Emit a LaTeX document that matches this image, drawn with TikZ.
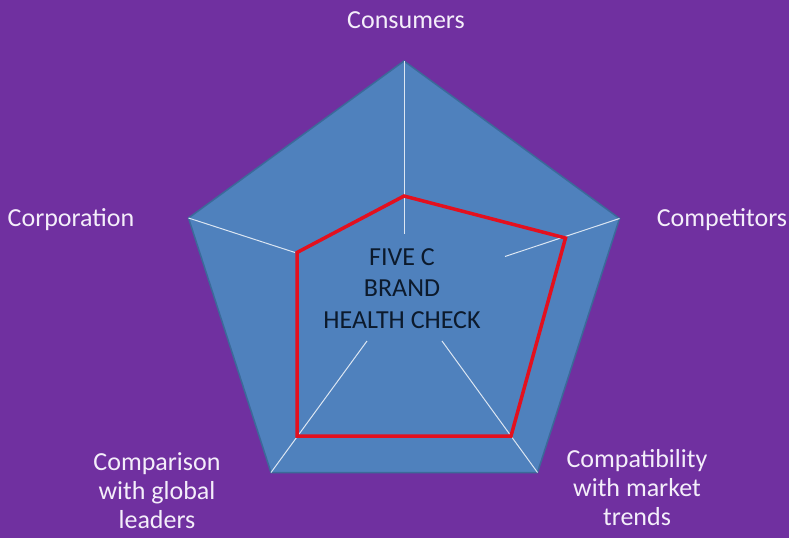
\documentclass[tikz,border=0pt]{standalone}
\usepackage{fontspec}
\setmainfont{Carlito}
\definecolor{bgpurple}{HTML}{7030A0}
\definecolor{pentfill}{HTML}{4F81BD}
\definecolor{pentedge}{HTML}{3B6A9A}
\definecolor{redline}{HTML}{E3101E}
\definecolor{spoke}{HTML}{DCE6F2}
\definecolor{labeltext}{HTML}{F4EEFA}
\definecolor{centertext}{HTML}{0C1A2C}
\tikzset{
  lbl/.style={text=labeltext, font=\fontsize{26}{29}\selectfont, align=center, inner sep=0pt, anchor=base},
  ctr/.style={text=centertext, font=\fontsize{26}{31.5}\selectfont, align=center, inner sep=0pt, anchor=base},
  spokeline/.style={draw=spoke, line width=1pt},
  radar/.style={draw=redline, line width=3.5pt, line join=miter},
  pent/.style={fill=pentfill, draw=pentedge, line width=1.5pt, line join=miter}
}
\begin{document}
\begin{tikzpicture}[x=1pt,y=-1pt]
\fill[bgpurple] (0,0) rectangle (789,538);
\useasboundingbox (0,0) rectangle (789,538);
% pentagon vertices
\coordinate (vt) at (404,61);
\coordinate (vr) at (619.5,218.5);
\coordinate (vbr) at (537.5,472.5);
\coordinate (vbl) at (271,472.5);
\coordinate (vl) at (188.5,218);
\draw[pent] (vt) -- (vr) -- (vbr) -- (vbl) -- (vl) -- cycle;
% spokes
\coordinate (st) at (404,234);
\coordinate (sr) at (505,256.5);
\coordinate (sbr) at (442,341);
\coordinate (sbl) at (367,341);
\coordinate (sl) at (295,252.5);
\draw[spokeline] (vt) -- (st);
\draw[spokeline] (vr) -- (sr);
\draw[spokeline] (vbr) -- (sbr);
\draw[spokeline] (vbl) -- (sbl);
\draw[spokeline] (vl) -- (sl);
% red radar
\coordinate (rt) at (404,196);
\coordinate (rr) at (565.5,238);
\coordinate (rbr) at (511,436);
\coordinate (rbl) at (297,436);
\coordinate (rl) at (297,252.5);
\draw[radar] (rt) -- (rr) -- (rbr) -- (rbl) -- (rl) -- cycle;
% labels
\node[lbl] (consumers) at (406,28) {Consumers};
\node[lbl] (corporation) at (71,226) {Corporation};
\node[lbl] (competitors) at (722,226.5) {Competitors};
\node[lbl] (comparison) at (157,528) {Comparison\\with global\\leaders};
\node[lbl] (compatibility) at (637,525.5) {Compatibility\\with market\\trends};
\node[ctr] (title) at (402,328) {FIVE C\\BRAND\\HEALTH CHECK};
\end{tikzpicture}
\end{document}
